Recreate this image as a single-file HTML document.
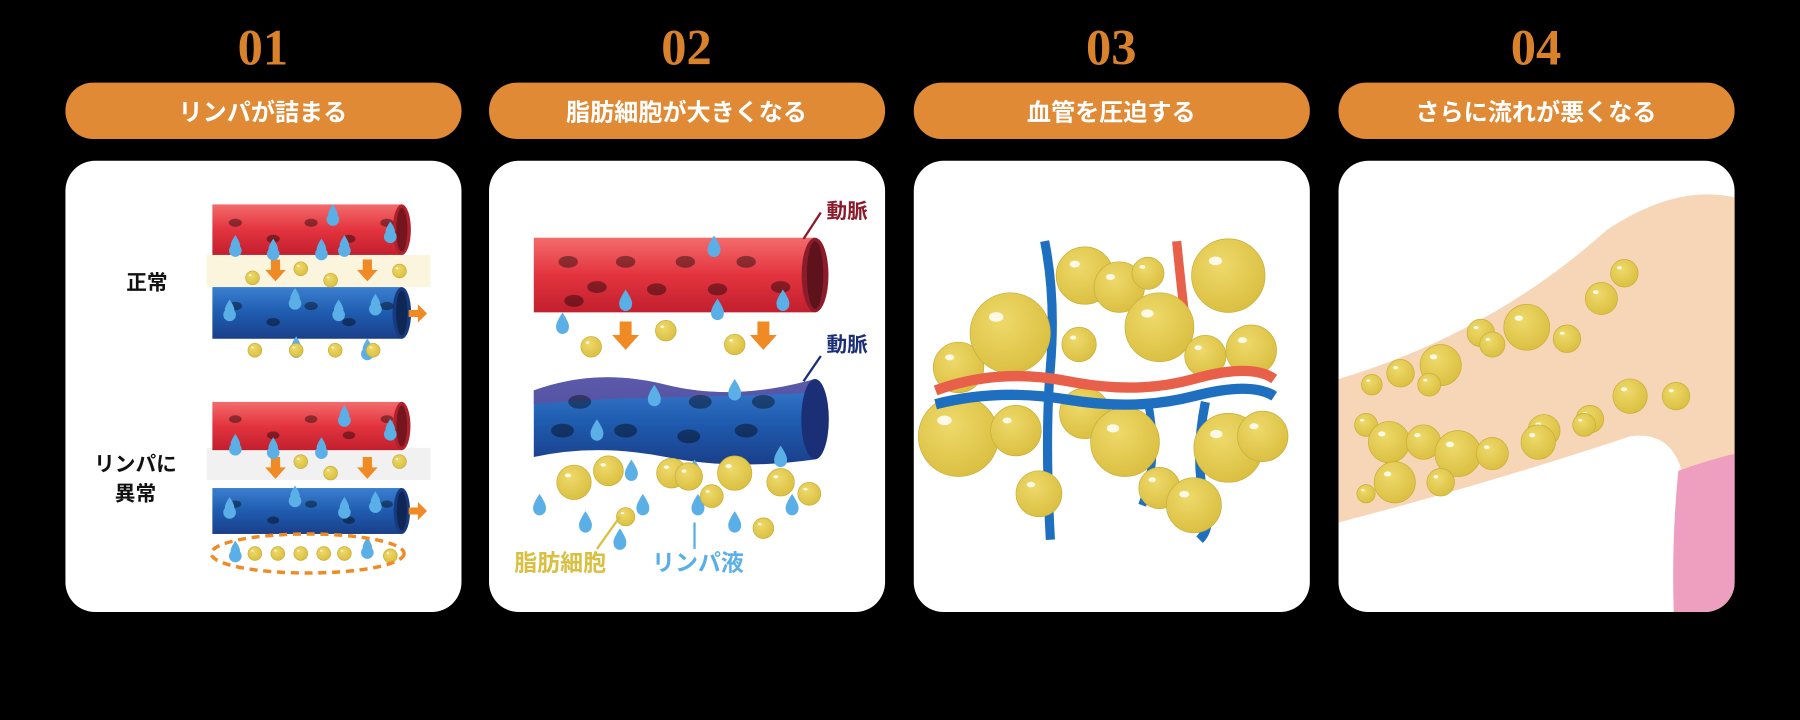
<!DOCTYPE html>
<html><head><meta charset="utf-8"><style>
html,body{margin:0;padding:0;background:#000;width:1800px;height:720px;overflow:hidden}
svg{display:block}
text{font-family:"Liberation Sans","Noto Sans CJK JP",sans-serif;font-weight:bold}
</style></head><body>
<svg id="s" width="1800" height="720" viewBox="0 0 1568 627" preserveAspectRatio="none">
<defs>
<linearGradient id="red" x1="0" y1="0" x2="0" y2="1"><stop offset="0" stop-color="#f36b6b"/><stop offset="0.5" stop-color="#e3343f"/><stop offset="1" stop-color="#c21f2e"/></linearGradient>
<linearGradient id="blue" x1="0" y1="0" x2="0" y2="1"><stop offset="0" stop-color="#3b7fd0"/><stop offset="0.5" stop-color="#1f5cb0"/><stop offset="1" stop-color="#1a3f8a"/></linearGradient>
<radialGradient id="fat" cx="0.4" cy="0.35" r="0.7"><stop offset="0" stop-color="#eed96a"/><stop offset="1" stop-color="#d9be3f"/></radialGradient>
<clipPath id="card4"><rect x="1166" y="140" width="345" height="393" rx="26"/></clipPath>
</defs>
<g id="root"></g>
</svg>
<script>
const titles=["リンパが詰まる","脂肪細胞が大きくなる","血管を圧迫する","さらに流れが悪くなる"];
const nums=["01","02","03","04"];
const lefts=[57,426,796,1166];
const NS="http://www.w3.org/2000/svg";
const root=document.getElementById('root');
function mk(tag,attrs,parent,txt){const e=document.createElementNS(NS,tag);for(const k in attrs)e.setAttribute(k,attrs[k]);if(txt!==undefined)e.textContent=txt;(parent||root).appendChild(e);return e;}
function fat(g,cx,cy,r){mk('circle',{cx,cy,r,fill:'url(#fat)',stroke:'#c9ad35','stroke-width':0.6},g);mk('ellipse',{cx:cx-r*0.35,cy:cy-r*0.4,rx:r*0.18,ry:r*0.12,fill:'#fff',opacity:0.85},g);}
function drop(g,x,y,s){s=s||1;mk('path',{d:`M${x} ${y-9*s} Q${x+6*s} ${y} ${x+5*s} ${y+3*s} A5.5 5.5 0 1 1 ${x-5*s} ${y+3*s} Q${x-6*s} ${y} ${x} ${y-9*s}Z`,fill:'#5ab0e6'},g);}
function tube(g,x1,y1,x2,y2,fill,end,holes){
  const h=y2-y1;
  mk('rect',{x:x1,y:y1,width:x2-x1,height:h,fill},g);
  mk('ellipse',{cx:x2,cy:(y1+y2)/2,rx:h*0.18,ry:h/2,fill:end},g);
  mk('ellipse',{cx:x2,cy:(y1+y2)/2,rx:h*0.11,ry:h/2-3,fill:'#00000055'},g);
  holes.forEach(p=>mk('ellipse',{cx:p[0],cy:p[1],rx:h*0.13,ry:h*0.08,fill:'#00000066'},g));
}
function arrow(g,x,y,s){s=s||1;mk('path',{d:`M${x-4*s} ${y} h${8*s} v${9*s} h${5*s} l${-9*s} ${10*s} l${-9*s} ${-10*s} h${5*s}z`,fill:'#f08a24'},g);}

for(let i=0;i<4;i++){
  const x=lefts[i];
  const g=mk('g',{});
  
  
  const n=mk('text',{x:x+172,y:56,'text-anchor':'middle',fill:'#d9822b','font-size':44,style:'font-family:"Liberation Serif",serif;font-weight:bold'},g,nums[i]);
  
  
  const p=mk('rect',{x:x,y:72,width:345,height:49,rx:24,fill:'#e08a35'},g);
  
  
  const t=mk('text',{x:x+172,y:105,'text-anchor':'middle',fill:'#fff','font-size':21},g,titles[i]);
  
  
  const c=mk('rect',{x:x,y:140,width:345,height:393,rx:26,fill:'#fff'},g);
  
  
}

// Panel 1
const p1=mk('g',{});


mk('rect',{x:180,y:222,width:195,height:28,fill:'#fbf3d6',opacity:0.8},p1);
mk('rect',{x:180,y:390,width:195,height:28,fill:'#eeeeee',opacity:0.8},p1);
[[178,222,'url(#red)','#b0202d'],[250,295,'url(#blue)','#173b80'],[350,392,'url(#red)','#b0202d'],[425,465,'url(#blue)','#173b80']].forEach((t,k)=>{
  const hs=[];for(let j=0;j<5;j++)hs.push([205+j*33,(t[0]+t[1])/2+(j%2?8:-6)]);
  tube(p1,185,t[0],350,t[1],t[2],t[3],hs);
});
mk('path',{d:'M356 270 h8 v-5 l8 8 l-8 8 v-5 h-8z',fill:'#f08a24'},p1);
mk('path',{d:'M356 442 h8 v-5 l8 8 l-8 8 v-5 h-8z',fill:'#f08a24'},p1);
arrow(p1,240,226);arrow(p1,320,226);arrow(p1,240,398);arrow(p1,320,398);
[[205,212],[238,215],[280,215],[300,212],[290,185],[340,200]].forEach(d=>drop(p1,d[0],d[1],0.8));
[[200,268],[257,258],[295,268],[327,263],[258,300],[320,302]].forEach(d=>drop(p1,d[0],d[1],0.8));
[[205,385],[238,388],[280,388],[300,360],[340,372]].forEach(d=>drop(p1,d[0],d[1],0.8));
[[200,440],[257,430],[300,440],[327,435],[205,478],[320,475]].forEach(d=>drop(p1,d[0],d[1],0.8));
[[220,242],[262,234],[288,244],[348,236],[222,305],[258,305],[292,305],[325,305],[262,402],[288,412],[348,402],[222,482],[242,482],[262,482],[282,482],[300,482],[340,484]].forEach(d=>fat(p1,d[0],d[1],6));
mk('ellipse',{cx:268,cy:482,rx:84,ry:17,fill:'none',stroke:'#f08a24','stroke-width':3,'stroke-dasharray':'7 5'},p1);
mk('text',{x:128,y:252,'text-anchor':'middle','font-size':18,fill:'#111'},p1,'正常');
mk('text',{x:118,y:410,'text-anchor':'middle','font-size':18,fill:'#111'},p1,'リンパに');
mk('text',{x:118,y:436,'text-anchor':'middle','font-size':18,fill:'#111'},p1,'異常');

// Panel 2
const p2=mk('g',{});


tube(p2,465,207,710,272,'url(#red)','#8d1c2a',[[495,228],[545,228],[597,228],[650,228],[520,250],[572,252],[625,252],[680,250],[500,262]]);
mk('path',{d:'M465 340 Q520 320 580 335 T710 330 L710 400 Q640 410 580 398 T465 398Z',fill:'url(#blue)'},p2);
mk('path',{d:'M465 340 Q520 320 580 335 T710 330 L710 342 Q640 345 580 346 T465 352Z',fill:'#6a4a9a',opacity:0.7},p2);
mk('ellipse',{cx:710,cy:365,rx:12,ry:35,fill:'#1a2f75'},p2);
[[505,350],[545,375],[610,350],[665,350],[490,375],[600,380],[650,375]].forEach(d=>mk('ellipse',{cx:d[0],cy:d[1],rx:10,ry:6,fill:'#00000066'},p2));
[[622,215],[545,262],[490,282],[625,270],[682,262],[570,345],[640,340],[520,375],[680,398],[605,410],[550,410],[470,440],[510,455],[560,440],[608,440],[640,455],[690,440],[540,470]].forEach(d=>drop(p2,d[0],d[1],1.1));
[[515,302],[580,288],[640,300],[500,420],[530,410],[585,412],[640,412],[680,420],[620,432],[600,415],[545,450],[665,460],[705,430]].forEach((d,k)=>fat(p2,d[0],d[1],[9,9,9,15,13,13,15,12,10,12,8,9,10][k]));
arrow(p2,545,280,1.3);arrow(p2,665,280,1.3);
mk('path',{d:'M700 208 L715 185',stroke:'#8b1a2a','stroke-width':2,fill:'none'},p2);
mk('path',{d:'M700 332 L715 310',stroke:'#1a2f75','stroke-width':2,fill:'none'},p2);
mk('text',{x:720,y:190,'font-size':18,fill:'#8b1a2a'},p2,'動脈');
mk('text',{x:720,y:306,'font-size':18,fill:'#1a2f75'},p2,'動脈');
mk('text',{x:448,y:497,'font-size':20,fill:'#d9c042'},p2,'脂肪細胞');
mk('text',{x:568,y:497,'font-size':20,fill:'#5ab0e6'},p2,'リンパ液');
mk('path',{d:'M520 478 L540 450',stroke:'#d9c042','stroke-width':2},p2);
mk('path',{d:'M605 478 L605 455',stroke:'#5ab0e6','stroke-width':2},p2);

// Panel 3
const p3=mk('g',{});


const cells3X=[835,880,945,975,1010,1070,1090,1050,835,885,945,980,1070,1100,905,1010,1040,940,1000];
const cells3Y=[320,290,240,250,285,240,305,310,380,375,360,385,390,380,430,425,440,300,238];
const cells3R=[22,35,25,22,30,32,22,18,35,22,22,30,30,22,20,18,24,15,14];
mk('path',{d:'M910 210 Q920 260 915 320 Q910 380 915 470',stroke:'#1e6fc0','stroke-width':8,fill:'none'},p3);
mk('path',{d:'M1025 210 Q1030 260 1035 300',stroke:'#e8604a','stroke-width':8,fill:'none'},p3);
mk('path',{d:'M1050 350 Q1040 400 1050 440 Q1055 460 1045 470',stroke:'#1e6fc0','stroke-width':8,fill:'none'},p3);
mk('path',{d:'M1000 350 Q1010 400 995 440',stroke:'#1e6fc0','stroke-width':7,fill:'none'},p3);
for(let k=0;k<cells3X.length;k++)fat(p3,cells3X[k],cells3Y[k],cells3R[k]);
mk('path',{d:'M815 340 Q870 320 930 332 T1040 330 T1110 330',stroke:'#e8604a','stroke-width':9,fill:'none'},p3);
mk('path',{d:'M815 352 Q870 338 930 348 T1040 345 T1110 345',stroke:'#1e6fc0','stroke-width':9,fill:'none'},p3);

// Panel 4
const p4=mk('g',{'clip-path':'url(#card4)'});


mk('path',{d:'M1166 330 Q1300 290 1400 200 Q1460 160 1512 172 L1512 533 L1500 533 Q1470 440 1465 410 Q1455 375 1420 380 Q1300 420 1166 455Z',fill:'#f7d6b8'},p4);
mk('path',{d:'M1462 410 Q1490 400 1512 395 L1512 533 L1458 533 Q1456 470 1462 410Z',fill:'#ee9fbf'},p4);
const cells4X=[1195,1220,1255,1290,1330,1365,1395,1415,1245,1300,1345,1385,1420,1460,1190,1210,1240,1270,1300,1340,1380,1215,1255,1190];
const cells4Y=[335,325,318,290,285,295,260,238,335,300,375,365,345,345,370,385,385,395,395,385,370,420,420,430];
const cells4R=[9,12,18,12,20,12,14,12,10,11,14,12,15,12,10,18,15,20,14,15,10,18,12,8];
for(let k=0;k<cells4X.length;k++)fat(p4,cells4X[k],cells4Y[k],cells4R[k]);
</script>
</body></html>
